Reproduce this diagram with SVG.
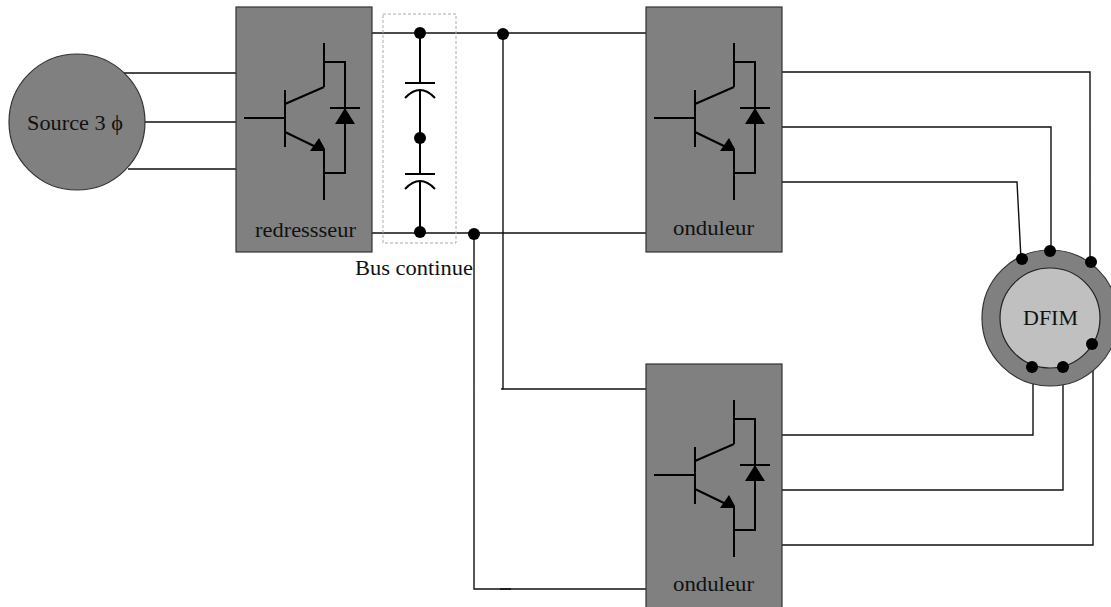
<svg xmlns="http://www.w3.org/2000/svg" width="1111" height="607" viewBox="0 0 1111 607">
<style>
.box{fill:#808080;stroke:#333;stroke-width:1.2}
.w{fill:none;stroke:#111;stroke-width:1.4}
.s{fill:none;stroke:#000;stroke-width:2}
.d{fill:#000}
text{font-family:"Liberation Serif",serif;fill:#111;font-size:22px}
</style>
<defs>
<g id="igbt">
<path class="s" d="M88 36V80M88 55H109V166H88M88 143V193M8 111H49M49 83V140M49 97L88 80M49 125L80 140"/>
<path class="d" d="M83 131L74 144H89V142Z"/>
<path class="s" d="M94 101H124"/>
<path class="d" d="M99 117H119L109 101Z"/>
</g>
</defs>
<g id="connectors">
<path class="w" d="M124 73H236M145 122H236M128 169H236"/>
<path class="w" d="M372 33H646M372 233H646"/>
<path class="s" d="M420 33V83M420 90V174M420 181V232"/>
<path class="s" d="M405 83H435M405 174H435"/>
<path class="s" d="M405 98Q420 82 435 98M405 189Q420 173 435 189"/>
<path class="w" d="M503 34V389H646M474 234V589H646"/>
<path class="w" d="M501 389H503M500 589H511"/>
<path class="w" d="M782 72H1090V261M782 127H1051V250M782 182H1017L1021 259"/>
<path class="w" d="M782 435H1033V367M782 490H1063V367M782 545H1093V344"/>
<rect x="383" y="14" width="73" height="229" fill="none" stroke="#aaa" stroke-width="1" stroke-dasharray="3 2"/>
<g class="d">
<circle cx="420" cy="33" r="6"/><circle cx="420" cy="138" r="6"/><circle cx="420" cy="232" r="6"/>
<circle cx="503" cy="34" r="6"/><circle cx="474" cy="234" r="6"/>
</g>
</g>
<g id="source"><circle cx="77" cy="122" r="68" class="box"/><text x="27" y="130" textLength="96" lengthAdjust="spacingAndGlyphs">Source 3 ϕ</text></g>
<g id="redresseur"><rect x="236" y="7" width="136" height="245" class="box"/><use href="#igbt" x="236" y="7"/><text x="255" y="237" textLength="101" lengthAdjust="spacingAndGlyphs">redressseur</text></g>
<g id="onduleur1"><rect x="646" y="7" width="136" height="245" class="box"/><use href="#igbt" x="646" y="7"/><text x="673" y="235" textLength="81" lengthAdjust="spacingAndGlyphs">onduleur</text></g>
<g id="onduleur2"><rect x="646" y="364" width="136" height="245" class="box"/><use href="#igbt" x="646" y="364"/><text x="673" y="591" textLength="81" lengthAdjust="spacingAndGlyphs">onduleur</text></g>
<g id="dfim"><circle cx="1050" cy="318" r="68" class="box"/><circle cx="1050" cy="318" r="50" fill="#c0c0c0" stroke="#222" stroke-width="1.2"/><text x="1023" y="325" textLength="55" lengthAdjust="spacingAndGlyphs">DFIM</text>
<g class="d"><circle cx="1022" cy="259" r="6"/><circle cx="1050" cy="251" r="6"/><circle cx="1091" cy="262" r="6"/><circle cx="1092" cy="344" r="6"/><circle cx="1032" cy="367" r="6"/><circle cx="1063" cy="367" r="6"/></g></g>
<text id="bus" x="355" y="275" textLength="118" lengthAdjust="spacingAndGlyphs">Bus continue</text>
</svg>
